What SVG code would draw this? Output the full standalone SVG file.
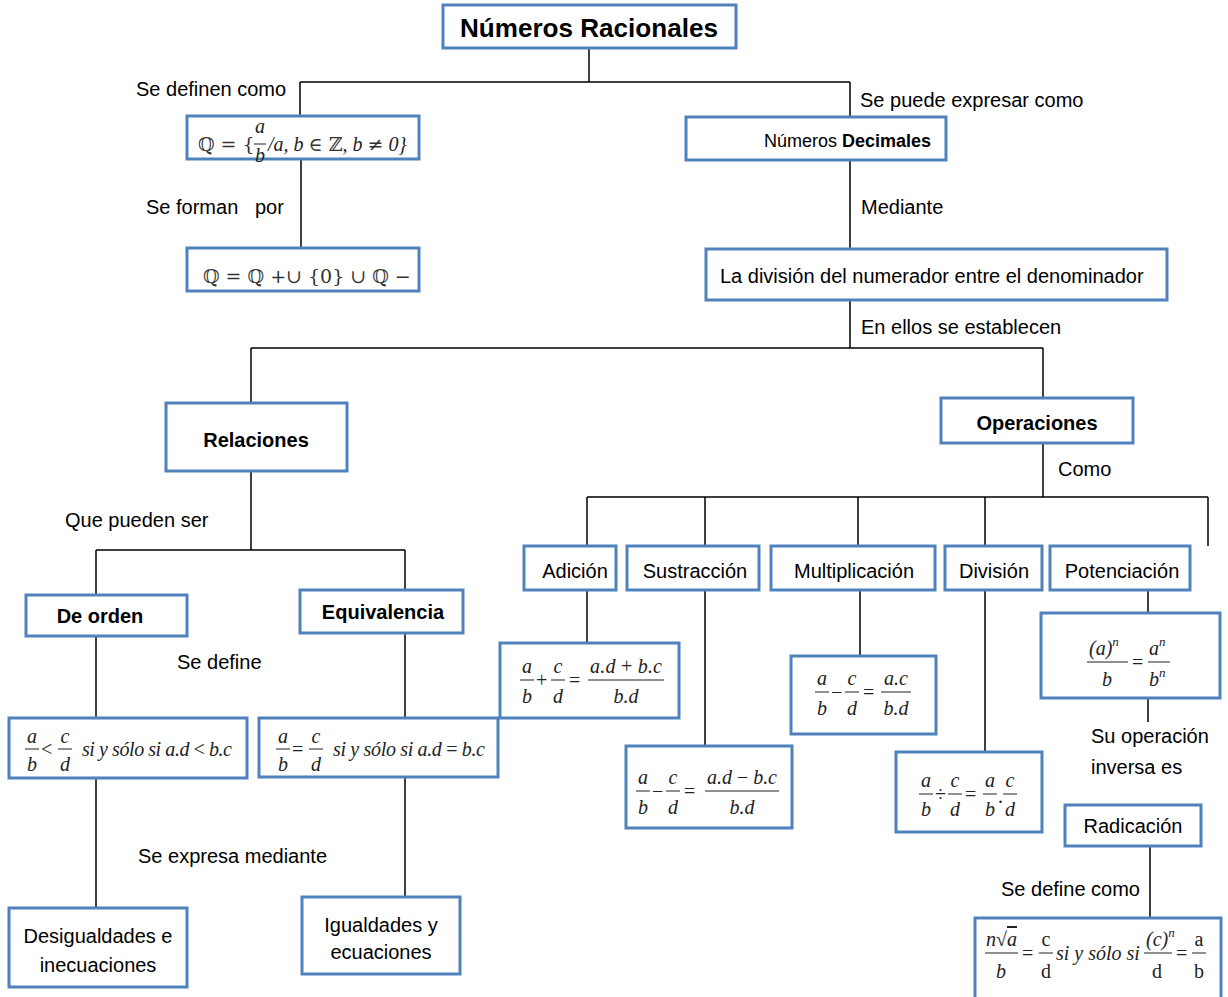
<svg xmlns="http://www.w3.org/2000/svg" width="1228" height="997" viewBox="0 0 1228 997">
<style>
  .box { fill: #fff; stroke: #4F81BD; stroke-width: 3; }
  .wire { fill: none; stroke: #000; stroke-width: 1.5; }
  .lbl { font-family: "Liberation Sans", Arial, sans-serif; font-size: 20px; fill: #000; }
  .b { font-weight: bold; }
  .mid { text-anchor: middle; }
  .m { font-family: "Liberation Serif", "DejaVu Serif", serif; font-style: italic; font-size: 20px; fill: #222; }
  .mu { font-family: "Liberation Serif", "DejaVu Serif", serif; font-size: 20px; fill: #222; }
  .bb { font-family: "DejaVu Serif", serif; font-size: 19px; fill: #333; }
  .bar { stroke: #222; stroke-width: 1; }
</style>

<!-- tree connectors -->
<g id="connectors">
  <path class="wire" d="M589,48 V82 M300,82 H850 M300,82 V116 M850,82 V117"/>
  <path class="wire" d="M301,159 V248 M850,160 V249 M850,300 V348"/>
  <path class="wire" d="M251,348 H1043 M251,348 V403 M1043,348 V398"/>
  <path class="wire" d="M251,471 V550 M96,550 H405 M96,550 V595 M405,550 V590"/>
  <path class="wire" d="M96,636 V718 M405,633 V718 M96,778 V908 M405,777 V897"/>
  <path class="wire" d="M1043,443 V497 M587,497 H1208 M587,497 V546 M705,497 V546 M858,497 V546 M985,497 V546 M1208,497 V546"/>
  <path class="wire" d="M587,590 V643 M705,590 V746 M860,590 V656 M985,590 V752 M1148,590 V613"/>
  <path class="wire" d="M1148,698 V722 M1150,846 V918"/>
</g>

<!-- edge labels -->
<g id="labels">
  <text class="lbl" x="136" y="96">Se definen como</text>
  <text class="lbl" x="860" y="107">Se puede expresar como</text>
  <text class="lbl" x="146" y="214" xml:space="preserve">Se forman   por</text>
  <text class="lbl" x="861" y="214">Mediante</text>
  <text class="lbl" x="861" y="334">En ellos se establecen</text>
  <text class="lbl" x="65" y="527">Que pueden ser</text>
  <text class="lbl" x="1058" y="476">Como</text>
  <text class="lbl" x="177" y="669">Se define</text>
  <text class="lbl" x="138" y="863">Se expresa mediante</text>
  <text class="lbl" x="1091" y="743">Su operación</text>
  <text class="lbl" x="1091" y="774">inversa es</text>
  <text class="lbl" x="1001" y="896">Se define como</text>
</g>

<g id="n-title">
  <rect class="box" x="443" y="5" width="293" height="43"/>
  <text class="lbl b mid" x="589" y="37" style="font-size:25px" textLength="258" lengthAdjust="spacingAndGlyphs">Números Racionales</text>
</g>

<g id="n-qdef">
  <rect class="box" x="187" y="116" width="232" height="43"/>
  <text class="bb" x="198" y="151">ℚ = {</text>
  <text class="m mid" x="260" y="133">a</text>
  <line class="bar" x1="254" y1="144" x2="266" y2="144"/>
  <text class="m mid" x="260" y="162">b</text>
  <text class="m" x="268" y="151">/a, b <tspan class="bb" font-style="normal">∈ ℤ</tspan>, b <tspan class="bb" font-style="normal">≠</tspan> 0}</text>
</g>

<g id="n-qunion">
  <rect class="box" x="187" y="248" width="232" height="43"/>
  <text class="bb" x="203" y="283">ℚ = ℚ +∪ {0} ∪ ℚ −</text>
</g>

<g id="n-decimales">
  <rect class="box" x="686" y="117" width="260" height="43"/>
  <text class="lbl" x="764" y="147" style="font-size:18px">Números <tspan class="b">Decimales</tspan></text>
</g>

<g id="n-division-num">
  <rect class="box" x="706" y="249" width="461" height="51"/>
  <text class="lbl" x="720" y="283">La división del numerador entre el denominador</text>
</g>

<g id="n-relaciones">
  <rect class="box" x="166" y="403" width="181" height="68"/>
  <text class="lbl b mid" x="256" y="447">Relaciones</text>
</g>

<g id="n-operaciones">
  <rect class="box" x="941" y="398" width="192" height="45"/>
  <text class="lbl b mid" x="1037" y="430">Operaciones</text>
</g>

<g id="n-deorden">
  <rect class="box" x="26" y="595" width="161" height="41"/>
  <text class="lbl b mid" x="100" y="623">De orden</text>
</g>

<g id="n-equivalencia">
  <rect class="box" x="300" y="590" width="163" height="43"/>
  <text class="lbl b mid" x="383" y="619">Equivalencia</text>
</g>

<g id="n-orden-def">
  <rect class="box" x="9" y="718" width="238" height="60"/>
  <text class="m mid" x="32" y="743">a</text>
  <line class="bar" x1="25" y1="749" x2="39" y2="749"/>
  <text class="m mid" x="32" y="771">b</text>
  <text class="mu" x="41" y="756">&lt;</text>
  <text class="m mid" x="65" y="743">c</text>
  <line class="bar" x1="58" y1="749" x2="72" y2="749"/>
  <text class="m mid" x="65" y="771">d</text>
  <text class="m" x="82" y="756" textLength="150" lengthAdjust="spacing">si y sólo si a.d <tspan class="mu" font-style="normal">&lt;</tspan> b.c</text>
</g>

<g id="n-equiv-def">
  <rect class="box" x="259" y="718" width="239" height="59"/>
  <text class="m mid" x="283" y="743">a</text>
  <line class="bar" x1="276" y1="749" x2="290" y2="749"/>
  <text class="m mid" x="283" y="771">b</text>
  <text class="mu" x="292" y="756">=</text>
  <text class="m mid" x="316" y="743">c</text>
  <line class="bar" x1="309" y1="749" x2="323" y2="749"/>
  <text class="m mid" x="316" y="771">d</text>
  <text class="m" x="333" y="756" textLength="152" lengthAdjust="spacing">si y sólo si a.d <tspan class="mu" font-style="normal">=</tspan> b.c</text>
</g>

<g id="n-desigualdades">
  <rect class="box" x="9" y="908" width="178" height="79"/>
  <text class="lbl mid" x="98" y="943">Desigualdades e</text>
  <text class="lbl mid" x="98" y="972">inecuaciones</text>
</g>

<g id="n-igualdades">
  <rect class="box" x="302" y="897" width="158" height="77"/>
  <text class="lbl mid" x="381" y="932">Igualdades y</text>
  <text class="lbl mid" x="381" y="959">ecuaciones</text>
</g>

<g id="n-adicion">
  <rect class="box" x="524" y="546" width="92" height="44"/>
  <text class="lbl mid" x="575" y="578">Adición</text>
</g>
<g id="n-sustraccion">
  <rect class="box" x="627" y="546" width="132" height="44"/>
  <text class="lbl mid" x="695" y="578">Sustracción</text>
</g>
<g id="n-multiplicacion">
  <rect class="box" x="771" y="546" width="164" height="44"/>
  <text class="lbl mid" x="854" y="578">Multiplicación</text>
</g>
<g id="n-division">
  <rect class="box" x="945" y="546" width="97" height="44"/>
  <text class="lbl mid" x="994" y="578">División</text>
</g>
<g id="n-potenciacion">
  <rect class="box" x="1050" y="546" width="140" height="44"/>
  <text class="lbl mid" x="1122" y="578">Potenciación</text>
</g>

<g id="n-adicion-f">
  <rect class="box" x="500" y="643" width="179" height="75"/>
  <text class="m mid" x="527" y="673">a</text>
  <line class="bar" x1="520" y1="680" x2="534" y2="680"/>
  <text class="m mid" x="527" y="703">b</text>
  <text class="mu" x="536" y="687">+</text>
  <text class="m mid" x="558" y="673">c</text>
  <line class="bar" x1="551" y1="680" x2="565" y2="680"/>
  <text class="m mid" x="558" y="703">d</text>
  <text class="mu" x="569" y="687">=</text>
  <text class="m mid" x="626" y="673" textLength="72" lengthAdjust="spacing">a.d <tspan class="mu" font-style="normal">+</tspan> b.c</text>
  <line class="bar" x1="588" y1="680" x2="664" y2="680"/>
  <text class="m mid" x="626" y="703">b.d</text>
</g>

<g id="n-sustraccion-f">
  <rect class="box" x="626" y="746" width="166" height="82"/>
  <text class="m mid" x="643" y="784">a</text>
  <line class="bar" x1="636" y1="791" x2="650" y2="791"/>
  <text class="m mid" x="643" y="814">b</text>
  <text class="mu" x="652" y="798">−</text>
  <text class="m mid" x="673" y="784">c</text>
  <line class="bar" x1="666" y1="791" x2="680" y2="791"/>
  <text class="m mid" x="673" y="814">d</text>
  <text class="mu" x="684" y="798">=</text>
  <text class="m mid" x="742" y="784" textLength="70" lengthAdjust="spacing">a.d <tspan class="mu" font-style="normal">−</tspan> b.c</text>
  <line class="bar" x1="705" y1="791" x2="779" y2="791"/>
  <text class="m mid" x="742" y="814">b.d</text>
</g>

<g id="n-multiplicacion-f">
  <rect class="box" x="791" y="656" width="145" height="78"/>
  <text class="m mid" x="822" y="685">a</text>
  <line class="bar" x1="815" y1="692" x2="829" y2="692"/>
  <text class="m mid" x="822" y="715">b</text>
  <text class="mu" x="831" y="699">−</text>
  <text class="m mid" x="852" y="685">c</text>
  <line class="bar" x1="845" y1="692" x2="859" y2="692"/>
  <text class="m mid" x="852" y="715">d</text>
  <text class="mu" x="863" y="699">=</text>
  <text class="m mid" x="896" y="685">a.c</text>
  <line class="bar" x1="881" y1="692" x2="911" y2="692"/>
  <text class="m mid" x="896" y="715">b.d</text>
</g>

<g id="n-division-f">
  <rect class="box" x="896" y="752" width="146" height="80"/>
  <text class="m mid" x="926" y="787">a</text>
  <line class="bar" x1="919" y1="794" x2="933" y2="794"/>
  <text class="m mid" x="926" y="816">b</text>
  <text class="mu" x="935" y="801">÷</text>
  <text class="m mid" x="955" y="787">c</text>
  <line class="bar" x1="948" y1="794" x2="962" y2="794"/>
  <text class="m mid" x="955" y="816">d</text>
  <text class="mu" x="965" y="801">=</text>
  <text class="m mid" x="990" y="787">a</text>
  <line class="bar" x1="983" y1="794" x2="997" y2="794"/>
  <text class="m mid" x="990" y="816">b</text>
  <text class="mu" x="998" y="803">.</text>
  <text class="m mid" x="1010" y="787">c</text>
  <line class="bar" x1="1003" y1="794" x2="1017" y2="794"/>
  <text class="m mid" x="1010" y="816">d</text>
</g>

<g id="n-potenciacion-f">
  <rect class="box" x="1041" y="613" width="179" height="85"/>
  <text class="m" x="1089" y="655">(a)<tspan font-size="13" dy="-9">n</tspan></text>
  <line class="bar" x1="1087" y1="662" x2="1128" y2="662"/>
  <text class="m mid" x="1107" y="686">b</text>
  <text class="mu" x="1132" y="669">=</text>
  <text class="m" x="1149" y="655">a<tspan font-size="13" dy="-9">n</tspan></text>
  <line class="bar" x1="1148" y1="662" x2="1170" y2="662"/>
  <text class="m" x="1149" y="686">b<tspan font-size="13" dy="-9">n</tspan></text>
</g>

<g id="n-radicacion">
  <rect class="box" x="1065" y="805" width="136" height="41"/>
  <text class="lbl mid" x="1133" y="833">Radicación</text>
</g>

<g id="n-radicacion-f">
  <rect class="box" x="975" y="918" width="246" height="84"/>
  <text class="m" x="986" y="946">n<tspan class="mu" font-style="normal">√</tspan><tspan text-decoration="overline">a</tspan></text>
  <line class="bar" x1="985" y1="953" x2="1018" y2="953"/>
  <text class="m mid" x="1001" y="978">b</text>
  <text class="mu" x="1022" y="960">=</text>
  <text class="mu mid" x="1046" y="946">c</text>
  <line class="bar" x1="1039" y1="953" x2="1053" y2="953"/>
  <text class="mu mid" x="1046" y="978">d</text>
  <text class="m" x="1056" y="960">si y sólo si</text>
  <text class="m" x="1146" y="946">(c)<tspan font-size="13" dy="-9">n</tspan></text>
  <line class="bar" x1="1144" y1="953" x2="1172" y2="953"/>
  <text class="mu mid" x="1157" y="978">d</text>
  <text class="mu" x="1176" y="960">=</text>
  <text class="mu mid" x="1199" y="946">a</text>
  <line class="bar" x1="1192" y1="953" x2="1206" y2="953"/>
  <text class="mu mid" x="1199" y="978">b</text>
</g>
</svg>
